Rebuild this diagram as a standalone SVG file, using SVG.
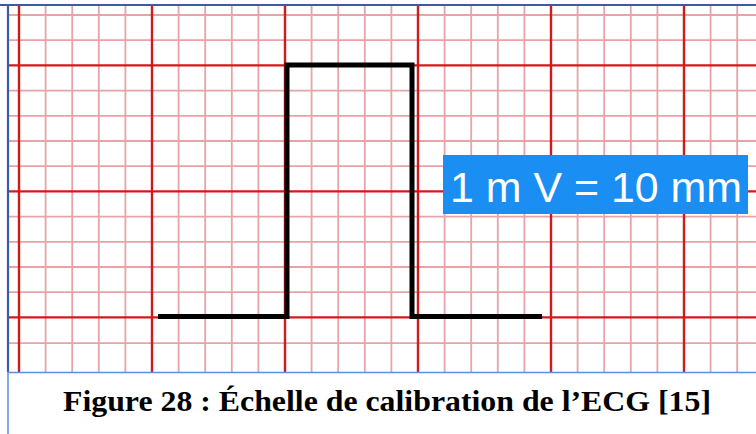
<svg xmlns="http://www.w3.org/2000/svg" width="756" height="434" viewBox="0 0 756 434">
  <defs>
    <style>
      .minor { stroke: #e7a3a6; stroke-width: 1.8; }
      .major { stroke: #d2191c; stroke-width: 2.4; }
      .sig { fill: none; stroke: #000; stroke-width: 5; stroke-linejoin: miter; stroke-linecap: butt; }
      .lbl { font-family: "Liberation Sans", Arial, sans-serif; font-size: 42px; fill: #ffffff; }
      .cap { font-family: "Liberation Serif", "Times New Roman", serif; font-weight: bold; font-size: 30px; fill: #000; }
    </style>
  </defs>
  <rect x="0" y="0" width="756" height="434" fill="#ffffff"/>
  <g id="grid">
    <g id="minor-v" class="minor">
      <line x1="45.6" y1="5" x2="45.6" y2="372"/><line x1="72.2" y1="5" x2="72.2" y2="372"/><line x1="98.8" y1="5" x2="98.8" y2="372"/><line x1="125.4" y1="5" x2="125.4" y2="372"/>
      <line x1="178.6" y1="5" x2="178.6" y2="372"/><line x1="205.2" y1="5" x2="205.2" y2="372"/><line x1="231.8" y1="5" x2="231.8" y2="372"/><line x1="258.4" y1="5" x2="258.4" y2="372"/>
      <line x1="311.6" y1="5" x2="311.6" y2="372"/><line x1="338.2" y1="5" x2="338.2" y2="372"/><line x1="364.8" y1="5" x2="364.8" y2="372"/><line x1="391.4" y1="5" x2="391.4" y2="372"/>
      <line x1="444.6" y1="5" x2="444.6" y2="372"/><line x1="471.2" y1="5" x2="471.2" y2="372"/><line x1="497.8" y1="5" x2="497.8" y2="372"/><line x1="524.4" y1="5" x2="524.4" y2="372"/>
      <line x1="577.6" y1="5" x2="577.6" y2="372"/><line x1="604.2" y1="5" x2="604.2" y2="372"/><line x1="630.8" y1="5" x2="630.8" y2="372"/><line x1="657.4" y1="5" x2="657.4" y2="372"/>
      <line x1="710.6" y1="5" x2="710.6" y2="372"/><line x1="737.2" y1="5" x2="737.2" y2="372"/>
    </g>
    <g id="minor-h" class="minor">
      <line x1="8" y1="15" x2="756" y2="15"/><line x1="8" y1="40.2" x2="756" y2="40.2"/>
      <line x1="8" y1="90.6" x2="756" y2="90.6"/><line x1="8" y1="115.8" x2="756" y2="115.8"/><line x1="8" y1="141" x2="756" y2="141"/><line x1="8" y1="166.2" x2="756" y2="166.2"/>
      <line x1="8" y1="216.6" x2="756" y2="216.6"/><line x1="8" y1="241.8" x2="756" y2="241.8"/><line x1="8" y1="267" x2="756" y2="267"/><line x1="8" y1="292.2" x2="756" y2="292.2"/>
      <line x1="8" y1="343.2" x2="756" y2="343.2"/>
    </g>
    <g id="major-v" class="major">
      <line x1="19" y1="5" x2="19" y2="372"/><line x1="152" y1="5" x2="152" y2="372"/><line x1="285" y1="5" x2="285" y2="372"/>
      <line x1="418" y1="5" x2="418" y2="372"/><line x1="551" y1="5" x2="551" y2="372"/><line x1="684" y1="5" x2="684" y2="372"/>
    </g>
    <g id="major-h" class="major">
      <line x1="8" y1="65.4" x2="756" y2="65.4"/><line x1="8" y1="191.4" x2="756" y2="191.4"/><line x1="8" y1="317.4" x2="756" y2="317.4"/>
    </g>
  </g>
  <g id="frame">
    <line x1="0" y1="5" x2="756" y2="5" stroke="#3b5ba9" stroke-width="2.2"/>
    <line x1="8" y1="4" x2="8" y2="372" stroke="#3b5ba9" stroke-width="2.2"/>
    <line x1="8" y1="372.5" x2="756" y2="372.5" stroke="#5e8fdc" stroke-width="1.6"/>
    <line x1="8" y1="372" x2="8" y2="434" stroke="#6b93de" stroke-width="1.6"/>
  </g>
  <g id="signal">
    <path class="sig" d="M158,316.5 H287 V65 H412 V316.5 H542"/>
  </g>
  <g id="label">
    <rect x="443" y="155" width="305" height="59" fill="#1a8ef2"/>
    <text class="lbl" x="450" y="202" textLength="292" lengthAdjust="spacingAndGlyphs">1 m V = 10 mm</text>
  </g>
  <g id="caption">
    <text class="cap" x="63" y="410.5" textLength="648" lengthAdjust="spacingAndGlyphs">Figure 28 : Échelle de calibration de l’ECG [15]</text>
  </g>
</svg>
